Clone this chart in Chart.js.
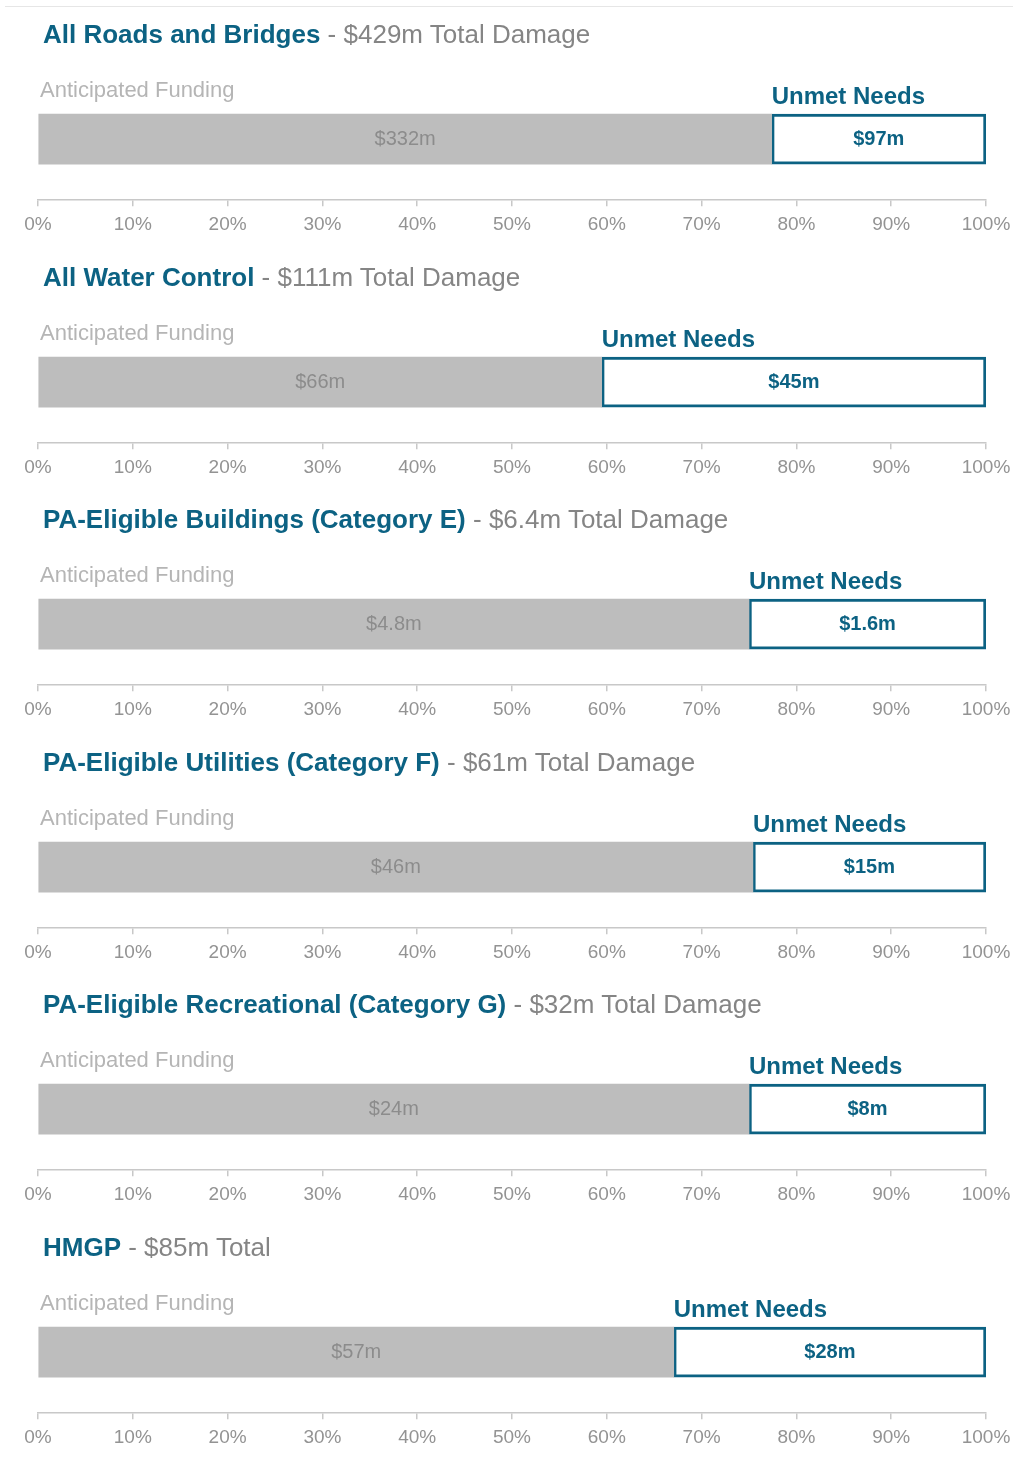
<!DOCTYPE html>
<html>
<head>
<meta charset="utf-8">
<script src="https://cdn.jsdelivr.net/npm/chart.js@4"></script>
<style>
  body { margin: 0; background: #fff; font-family: "Liberation Sans", Arial, sans-serif; }
  #page { position: relative; width: 1013px; height: 1473px; }
  .topline { position: absolute; left: 5px; top: 6px; width: 1008px; height: 1px; background: #e6e6e6; }
  .panel { position: absolute; left: 0; width: 1013px; height: 250px; }
  .panel h2 { position: absolute; left: 43px; top: 19px; margin: 0; font-size: 26px; line-height: 30px; font-weight: normal; color: #858585; white-space: nowrap; }
  .panel h2 b { color: #0c6283; }
  .panel canvas { position: absolute; left: 0; top: 0; }
</style>
</head>
<body>
<div id="page"><div class="topline"></div></div>
<script>
// Data ($ millions)
const titles = [
  "All Roads and Bridges",
  "All Water Control",
  "PA-Eligible Buildings (Category E)",
  "PA-Eligible Utilities (Category F)",
  "PA-Eligible Recreational (Category G)",
  "HMGP"
];
const totalLabels = [
  "$429m Total Damage",
  "$111m Total Damage",
  "$6.4m Total Damage",
  "$61m Total Damage",
  "$32m Total Damage",
  "$85m Total"
];
const funded = [332, 66, 4.8, 46, 24, 57];
const unmet = [97, 45, 1.6, 15, 8, 28];
const fundedLabel = "Anticipated Funding";
const unmetLabel = "Unmet Needs";
const pctTicks = [0, 10, 20, 30, 40, 50, 60, 70, 80, 90, 100];

const TEAL = "#0c6283";
const FONT = "'Liberation Sans', Arial, sans-serif";

// draws the "Anticipated Funding" / "Unmet Needs" captions and the $ values
const barText = {
  id: "barText",
  afterDatasetsDraw(chart) {
    const c = chart.ctx;
    const g = chart.getDatasetMeta(0).data[0];
    const u = chart.getDatasetMeta(1).data[0];
    const top = g.y - g.height / 2;
    const i = chart.options.panelIndex;
    c.save();
    c.textBaseline = "middle";

    c.font = "22px " + FONT;
    c.fillStyle = "#b5b5b5";
    c.textAlign = "left";
    c.fillText(fundedLabel, chart.chartArea.left + 2, top - 23);

    c.font = "bold 24px " + FONT;
    c.fillStyle = TEAL;
    c.fillText(unmetLabel, u.base, top - 17);

    c.textAlign = "center";
    c.font = "20px " + FONT;
    c.fillStyle = "#8c8c8c";
    c.fillText("$" + funded[i] + "m", (g.base + g.x) / 2, g.y);

    c.font = "bold 20px " + FONT;
    c.fillStyle = TEAL;
    c.fillText("$" + unmet[i] + "m", (u.base + u.x) / 2, u.y);
    c.restore();
  }
};

const page = document.getElementById("page");

titles.forEach((title, i) => {
  const panel = document.createElement("div");
  panel.className = "panel";
  panel.style.top = (i * 242.6) + "px";
  const cv = document.createElement("canvas");
  cv.width = 1013;
  cv.height = 250;
  panel.appendChild(cv);
  const h = document.createElement("h2");
  const b = document.createElement("b");
  b.textContent = title;
  h.appendChild(b);
  h.appendChild(document.createTextNode(" - " + totalLabels[i]));
  panel.appendChild(h);
  page.appendChild(panel);

  const total = funded[i] + unmet[i];

  new Chart(cv.getContext("2d"), {
    type: "bar",
    data: {
      labels: [title],
      datasets: [
        { label: fundedLabel, data: [funded[i] / total * 100], backgroundColor: "#bdbdbd", borderWidth: 0, barThickness: 50 },
        { label: unmetLabel, data: [unmet[i] / total * 100], backgroundColor: "#ffffff", borderColor: TEAL, borderWidth: 3, borderSkipped: false, barThickness: 50 }
      ]
    },
    options: {
      panelIndex: i,
      indexAxis: "y",
      responsive: false,
      animation: false,
      layout: { autoPadding: false, padding: { left: 38, right: 27, top: 78, bottom: 7 } },
      plugins: { legend: { display: false }, tooltip: { enabled: false } },
      scales: {
        x: {
          stacked: true,
          min: 0,
          max: 100,
          afterBuildTicks: axis => { axis.ticks = pctTicks.map(v => ({ value: v })); },
          afterFit: axis => { axis.paddingLeft = 0; axis.paddingRight = 0; },
          grid: { drawOnChartArea: false, drawTicks: true, tickLength: 6, color: "#c8c8c8", lineWidth: 1.5 },
          border: { display: true, color: "#c8c8c8", width: 1.5 },
          ticks: {
            padding: 7,
            maxRotation: 0,
            autoSkip: false,
            color: "#939393",
            font: { family: FONT, size: 19 },
            callback: v => v + "%"
          }
        },
        y: { stacked: true, display: false }
      }
    },
    plugins: [barText]
  });
});
</script>
</body>
</html>
